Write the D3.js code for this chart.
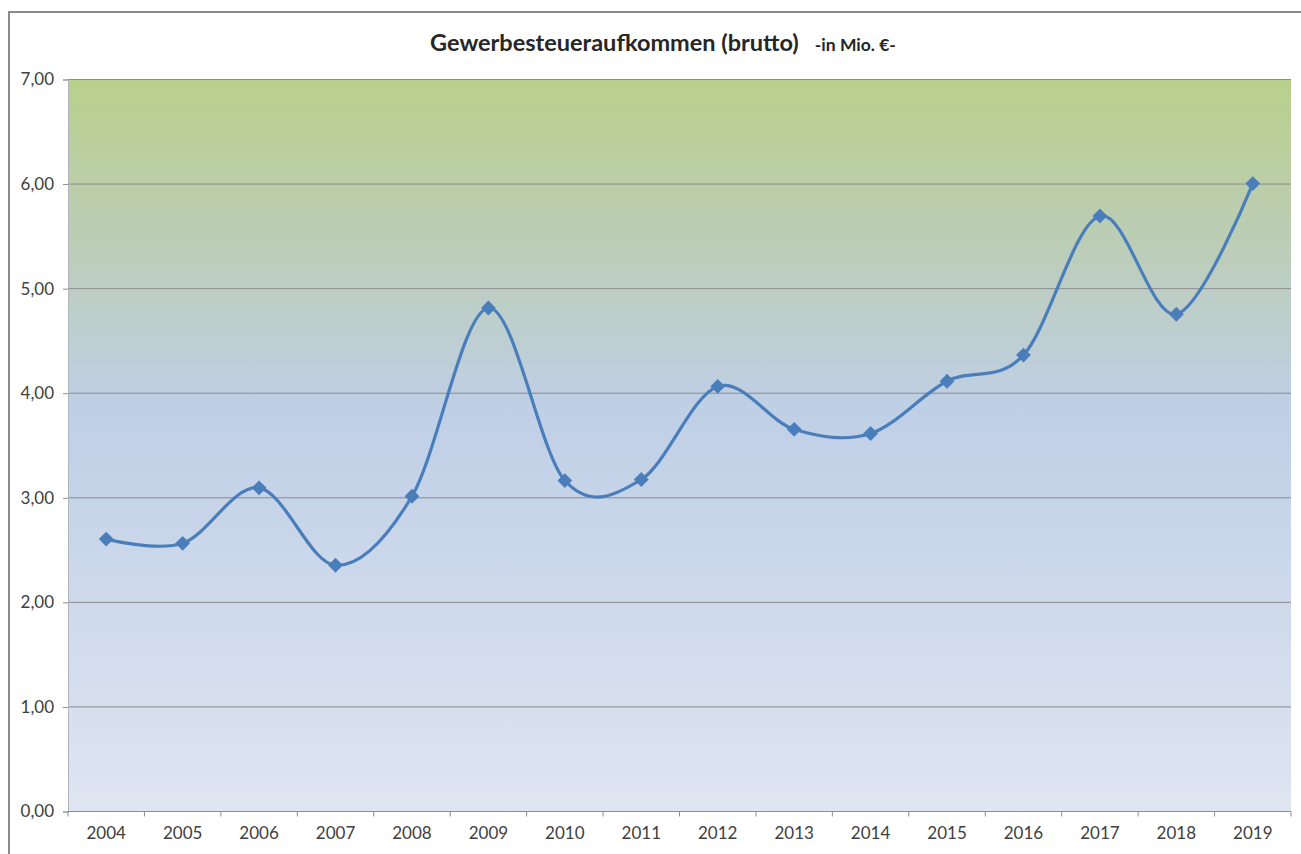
<!DOCTYPE html>
<html>
<head>
<meta charset="utf-8">
<script src="https://cdn.jsdelivr.net/npm/d3@7"></script>
<style>
  body { margin: 0; background: #fff; }
  text { font-family: Lato, "Open Sans", sans-serif; }
</style>
</head>
<body>
<script>
'use strict';

// chart data
var years = ["2004", "2005", "2006", "2007", "2008", "2009", "2010", "2011",
             "2012", "2013", "2014", "2015", "2016", "2017", "2018", "2019"];
var revenue = [2.60, 2.56, 3.09, 2.35, 3.01, 4.81, 3.16, 3.17,
               4.06, 3.65, 3.61, 4.11, 4.36, 5.69, 4.75, 6.00];
var yTicks = [0, 1, 2, 3, 4, 5, 6, 7];
var titleMain = "Gewerbesteueraufkommen (brutto)";
var titleSub = "-in Mio. €-";

var width = 1301, height = 854;
var margin = {top: 79, right: 10, bottom: 43, left: 68};

var svg = d3.select("body").append("svg")
   .attr("width", width)
   .attr("height", height);

// outer chart frame (left + top visible)
svg.append("rect")
   .attr("x", 9).attr("y", 12)
   .attr("width", width + 20).attr("height", height + 20)
   .attr("fill", "#fff")
   .attr("stroke", "#8a8a8a")
   .attr("stroke-width", 2);

var x = d3.scaleBand()
   .domain(years)
   .range([margin.left, width - margin.right]);

var y = d3.scaleLinear()
   .domain([0, 7])
   .range([height - margin.bottom, margin.top]);

// plot background gradient
var defs = svg.append("defs");
var grad = defs.append("linearGradient")
   .attr("id", "bg").attr("x1", 0).attr("y1", 0).attr("x2", 0).attr("y2", 1);
grad.append("stop").attr("offset", "0%").attr("stop-color", "#b9d08b");
grad.append("stop").attr("offset", "22%").attr("stop-color", "#bccdb6");
grad.append("stop").attr("offset", "45%").attr("stop-color", "#bfcfe6");
grad.append("stop").attr("offset", "100%").attr("stop-color", "#dfe5f1");

svg.append("rect")
   .attr("x", x.range()[0])
   .attr("y", y(7))
   .attr("width", x.range()[1] - x.range()[0])
   .attr("height", y(0) - y(7))
   .attr("fill", "url(#bg)");

// horizontal gridlines
svg.append("g")
   .selectAll("line")
   .data(yTicks.filter(function(d){ return d > 0; }))
   .enter().append("line")
   .attr("x1", x.range()[0])
   .attr("x2", x.range()[1])
   .attr("y1", function(d){ return y(d) + 0.5; })
   .attr("y2", function(d){ return y(d) + 0.5; })
   .attr("stroke", "#8c8c8c")
   .attr("stroke-width", 1);

// y axis
var yAxis = svg.append("g")
   .attr("transform", "translate(" + x.range()[0] + ",0.5)")
   .call(d3.axisLeft(y)
      .tickValues(yTicks)
      .tickSize(5)
      .tickPadding(9)
      .tickFormat(function(d){ return d3.format(".2f")(d).replace(".", ","); }));
yAxis.select(".domain").attr("stroke", "#b0b4bc");
yAxis.selectAll(".tick line").attr("stroke", "#8c8c8c");
yAxis.selectAll("text")
   .attr("font-size", 17)
   .attr("fill", "#404040")
   .style("font-family", "Lato, sans-serif");

// x axis with ticks at category boundaries
var xAxisG = svg.append("g")
   .attr("transform", "translate(0," + (y(0) + 0.5) + ")");
xAxisG.append("line")
   .attr("x1", x.range()[0]).attr("x2", x.range()[1])
   .attr("stroke", "#8c8c8c");
var bounds = years.map(function(d){ return x(d); }).concat([x.range()[1]]);
xAxisG.selectAll(".bt")
   .data(bounds)
   .enter().append("line")
   .attr("class", "bt")
   .attr("x1", function(d){ return d; })
   .attr("x2", function(d){ return d; })
   .attr("y1", 0).attr("y2", 5)
   .attr("stroke", "#8c8c8c");
xAxisG.selectAll("text")
   .data(years)
   .enter().append("text")
   .attr("x", function(d){ return x(d) + x.bandwidth() / 2; })
   .attr("y", 27)
   .attr("text-anchor", "middle")
   .attr("font-size", 17)
   .attr("fill", "#404040")
   .text(function(d){ return d; });

// smoothed line
var line = d3.line()
   .x(function(d, i){ return x(years[i]) + x.bandwidth() / 2; })
   .y(function(d){ return y(d); })
   .curve(d3.curveCardinal.tension(0));

svg.append("path")
   .attr("d", line(revenue))
   .attr("fill", "none")
   .attr("stroke", "#4a7ebb")
   .attr("stroke-width", 3.2);

// diamond markers
svg.append("g")
   .selectAll("path")
   .data(revenue)
   .enter().append("path")
   .attr("d", d3.symbol().type(d3.symbolSquare).size(110))
   .attr("transform", function(d, i){
      return "translate(" + (x(years[i]) + x.bandwidth() / 2) + "," + y(d) + ") rotate(45)";
   })
   .attr("fill", "#4a7ebb");

// title
var title = svg.append("text")
   .attr("x", 663)
   .attr("y", 51)
   .attr("text-anchor", "middle")
   .attr("font-weight", "bold")
   .attr("fill", "#262626");
title.append("tspan").attr("font-size", 23.5).text(titleMain);
title.append("tspan").attr("font-size", 17.5).attr("dx", 16).text(titleSub);
</script>
</body>
</html>
